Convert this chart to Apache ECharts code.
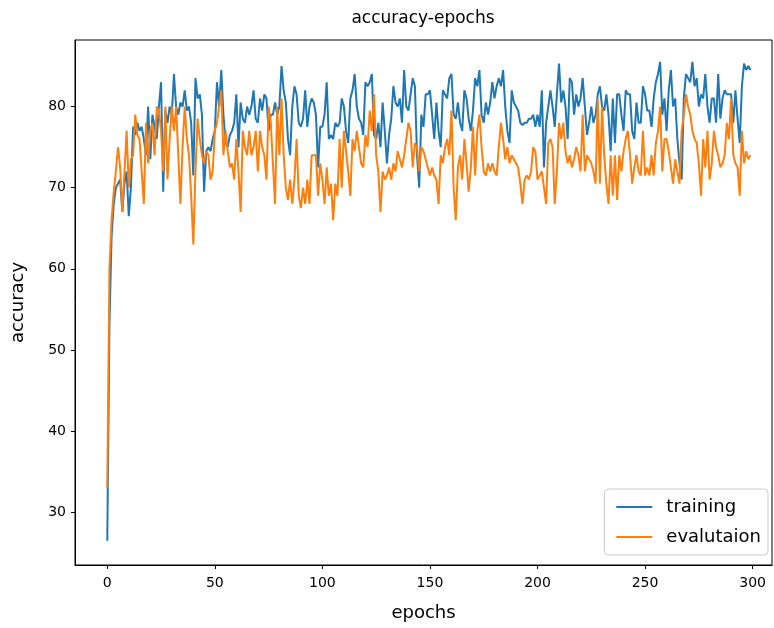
<!DOCTYPE html>
<html>
<head>
<meta charset="utf-8">
<script src="https://cdn.jsdelivr.net/npm/echarts@6/dist/echarts.min.js"></script>
<style>
  html, body { margin: 0; padding: 0; background: #fff; }
  #chart { width: 774px; height: 628px; }
</style>
</head>
<body>
<div id="chart"></div>
<script>
// accuracy per epoch
const training = [
  26.5, 53, 64, 68, 70, 70.5, 71, 67, 70.5, 72,
  66.5, 70, 77.5, 76.5, 78, 77, 77.5, 76, 74, 80,
  73.5, 79, 77.5, 76, 80, 83, 69.5, 79.5, 78, 80,
  79, 84, 80, 79, 80.5, 80, 82, 79.5, 80, 78,
  71.5, 83.5, 81, 81.5, 79, 69.5, 74.5, 75, 74.5, 76,
  77, 83, 80, 84.5, 79, 75.5, 75, 76.5, 77, 78,
  81.5, 75, 80.5, 78.5, 78, 80, 79, 80, 82, 78.5,
  78, 81, 79.5, 81.5, 81, 77, 79, 79, 80.5, 79,
  80, 85, 82, 80.5, 76, 74, 80, 82.5, 81.5, 78,
  77.5, 78.5, 82, 77.5, 80, 81, 80.5, 79, 72.5, 77.5,
  77.5, 79, 83, 76, 76.5, 76, 78, 77.5, 78, 81,
  80, 77, 75.5, 81, 82, 84, 80, 78.5, 78, 76.5,
  83, 82.5, 83, 84, 76.5, 76, 78, 75, 80.5, 77,
  73, 76.5, 78.5, 82.5, 80.5, 80, 81, 78, 84.5, 80,
  79.5, 81.5, 83.5, 82.5, 74, 70, 79, 77.5, 81.5, 81.5,
  82, 79, 76, 80.5, 77, 75, 82, 81.5, 81, 83.5,
  84, 79, 78.5, 80.5, 78, 77, 82, 81, 78.5, 77,
  79.5, 83.5, 82.5, 84.5, 79, 78, 80.5, 79, 80.5, 83,
  81, 82.5, 83.5, 82.5, 84.5, 80, 77, 75.5, 82, 80.5,
  80, 79.5, 78, 77.7, 78, 78, 78.5, 78.5, 79, 77.5,
  79, 77.5, 82, 72.5, 78, 80, 82, 80, 77.5, 81.5,
  85.3, 80.5, 82, 80, 76, 83.5, 83, 79, 81.5, 80,
  81, 83.5, 80, 76.5, 78, 80, 78, 79, 81.5, 82.5,
  80, 79.5, 81.5, 79, 74.5, 81, 75.5, 81.5, 81.5, 79,
  77, 82, 81.5, 81.5, 77, 76, 80.5, 78, 78, 82.5,
  81.5, 79.5, 79.5, 77.5, 81, 83, 84, 85.5, 79, 81,
  77, 82, 84.5, 80, 81, 76, 73, 71, 81, 84,
  83.5, 83, 85.5, 82.5, 83.5, 80, 81.5, 81, 84, 80,
  78, 81, 81, 78, 84, 78.5, 81, 82, 81.5, 81.5,
  81.5, 78, 82, 78.5, 75.5, 82.5, 85.3, 84.5, 85, 84.5
]
const evaluation = [
  33, 60, 66, 69.5, 72, 75, 72.5, 67, 72, 77,
  70, 73.5, 74, 79, 76.5, 76, 72, 68, 78, 73,
  77, 78, 74, 80, 79.5, 77, 72, 80, 71, 76,
  80, 77, 80, 74, 68, 75, 80, 76, 74, 69,
  63, 72, 78.5, 76, 74, 73, 74.5, 74, 71, 72,
  77, 78, 80, 82, 74, 77, 74.5, 72.5, 73, 71,
  76, 72, 67, 77, 75, 74, 77, 74, 75, 77,
  72, 77, 75, 74, 71, 80, 78, 73, 68, 80,
  74, 81, 74, 70, 68.5, 71, 68, 71, 76, 69,
  67.5, 70, 68, 71, 68, 74, 74, 74, 69, 73,
  71, 68, 72.5, 69, 70.5, 66, 70.5, 69, 76, 70,
  77, 74.5, 72, 69, 76, 74.5, 77, 75, 73, 72.5,
  76.5, 75, 79.5, 77, 81.5, 74, 72, 67, 72, 71,
  71.5, 72.5, 71, 73, 72, 74.5, 73.5, 72.5, 74, 76,
  78, 77, 72.5, 75.5, 75, 72, 75, 74.5, 73.5, 72.5,
  71.5, 72.5, 71.5, 71, 68, 74, 73, 75, 76, 74,
  79.5, 70, 66, 72.5, 74, 71, 76, 73, 69.5, 72.5,
  77.5, 71.5, 77, 79, 75, 72, 71.5, 73, 72, 73,
  72, 71.5, 75, 78, 76, 73.5, 75, 73, 74, 73.5,
  73, 72.5, 70.5, 68, 71, 71.5, 71, 72, 75, 74.5,
  71, 71.5, 72, 70, 68, 75.5, 76, 75, 68, 72,
  78, 76, 78, 74.5, 73, 74, 72.5, 73.5, 75, 74,
  72, 79, 72, 74, 73.5, 73, 72, 70.5, 81, 70.5,
  80, 74, 70.5, 68, 74, 69, 74, 68.5, 74, 72,
  74.5, 76, 77, 74, 70.5, 72.5, 74, 72, 71.5, 77,
  71.5, 72.5, 71.5, 74, 71.5, 75.5, 77, 80, 72, 76,
  76, 74.5, 72.5, 70.5, 73.5, 72, 70.5, 77, 79, 81.5,
  80, 79, 77, 76, 75.5, 73, 69, 76, 72.5, 77,
  71, 73, 77, 75, 74, 72.5, 73, 74, 78, 76,
  81, 74, 73, 72.5, 69, 77, 73, 74.5, 73.5, 74
]
const xTicks = [0, 50, 100, 150, 200, 250, 300]
const yTicks = [30, 40, 50, 60, 70, 80]

const chart = echarts.init(document.getElementById('chart'))

function toPoints(arr) {
  return arr.map((v, i) => [i, v])
}

const font = 'DejaVu Sans'

chart.setOption({
  animation: false,
  textStyle: { fontFamily: font },
  grid: {
    left: 75, top: 40, right: 2, bottom: 63,
    show: true, borderColor: '#000', borderWidth: 1
  },
  graphic: [{
    type: 'text',
    x: 423, y: 19,
    style: {
      text: 'accuracy-epochs',
      font: '17px "DejaVu Sans"',
      fill: '#000',
      textAlign: 'center',
      textVerticalAlign: 'middle'
    }
  }],
  legend: {
    orient: 'vertical',
    right: 6,
    bottom: 73,
    data: ['training', 'evalutaion'],
    icon: 'rect',
    itemWidth: 36,
    itemHeight: 2,
    itemGap: 12,
    padding: [9, 7, 9, 12],
    backgroundColor: 'rgba(255,255,255,0.8)',
    borderColor: '#cccccc',
    borderWidth: 1,
    borderRadius: 4,
    textStyle: { fontFamily: font, fontSize: 18, color: '#000', padding: [0, 0, 0, 9] }
  },
  xAxis: {
    type: 'value',
    min: -15,
    max: 309,
    name: 'epochs',
    nameLocation: 'middle',
    nameGap: 39,
    nameTextStyle: { fontFamily: font, fontSize: 18, color: '#000' },
    axisLine: { show: true, onZero: false, lineStyle: { color: '#000', width: 1 } },
    axisTick: { show: true, length: 4, lineStyle: { color: '#000' }, customValues: xTicks },
    axisLabel: { color: '#000', fontSize: 14, margin: 11, customValues: xTicks },
    splitLine: { show: false }
  },
  yAxis: {
    type: 'value',
    min: 23.5,
    max: 88.2,
    name: 'accuracy',
    nameLocation: 'middle',
    nameGap: 48,
    nameTextStyle: { fontFamily: font, fontSize: 18, color: '#000' },
    axisLine: { show: true, onZero: false, lineStyle: { color: '#000', width: 1 } },
    axisTick: { show: true, length: 4, lineStyle: { color: '#000' }, customValues: yTicks },
    axisLabel: { color: '#000', fontSize: 14, margin: 9, customValues: yTicks },
    splitLine: { show: false }
  },
  series: [
    {
      name: 'training',
      type: 'line',
      data: toPoints(training),
      showSymbol: false,
      symbol: 'none',
      color: '#1f77b4',
      lineStyle: { color: '#1f77b4', width: 2 }
    },
    {
      name: 'evalutaion',
      type: 'line',
      data: toPoints(evaluation),
      showSymbol: false,
      symbol: 'none',
      color: '#ff7f0e',
      lineStyle: { color: '#ff7f0e', width: 2 }
    }
  ]
})
</script>
</body>
</html>
